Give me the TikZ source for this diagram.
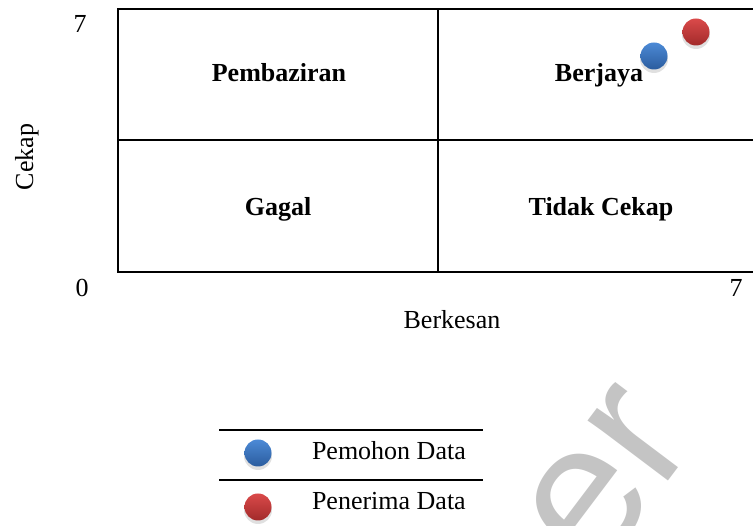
\documentclass[tikz,border=0pt]{standalone}
\usepackage{fontspec}
\setmainfont{Liberation Serif}
\newfontfamily\wmfont{Liberation Sans}
\definecolor{blueTop}{HTML}{4C8AD6}
\definecolor{blueMid}{HTML}{3B76C4}
\definecolor{blueBot}{HTML}{2B5C9E}
\definecolor{redTop}{HTML}{DA4A4A}
\definecolor{redMid}{HTML}{C83A3A}
\definecolor{redBot}{HTML}{A22A2A}
\definecolor{wmgray}{HTML}{C4C4C4}
\begin{document}
\begin{tikzpicture}[x=1pt,y=1pt,
  every node/.style={inner sep=0pt, outer sep=0pt},
  lbl/.style={font=\fontsize{26}{30}\selectfont},
  qlabel/.style={font=\bfseries\fontsize{26}{30}\selectfont, anchor=base},
  grid/.style={line width=2pt, black},
  rule/.style={line width=2pt, black},
  ball/.style={circle, minimum size=27pt},
  blueball/.style={ball, top color=blueTop, middle color=blueMid, bottom color=blueBot},
  redball/.style={ball, top color=redTop, middle color=redMid, bottom color=redBot},
  shade/.style={circle, minimum size=28pt, fill=black, opacity=0.12},
  wmark/.style={wmgray}
]
\useasboundingbox (0,0) rectangle (753,526);
\begin{scope}
\clip (0,0) rectangle (753,526);

% watermark
\node[wmark, anchor=base, rotate=53, font=\wmfont\fontsize{190}{200}\selectfont] (wm) at (616,-25) {per};

% quadrant frame
\draw[grid] (118,254) rectangle (758,517);
\coordinate (midT) at (438,517);
\coordinate (midB) at (438,254);
\coordinate (midL) at (118,386);
\coordinate (midR) at (758,386);
\draw[grid] (midT) -- (midB);
\draw[grid] (midL) -- (midR);

% axis values and titles
\node[lbl, anchor=base] (y7) at (80,493) {7};
\node[lbl, anchor=base] (y0) at (82,229) {0};
\node[lbl, anchor=base] (x7) at (736,229) {7};
\node[lbl, anchor=base, rotate=90] (ylab) at (33,369) {Cekap};
\node[lbl, anchor=base] (xlab) at (452,197) {Berkesan};

% quadrant names
\node[qlabel] (q1) at (279,444) {Pembaziran};
\node[qlabel] (q2) at (599,444) {Berjaya};
\node[qlabel] (q3) at (278,310) {Gagal};
\node[qlabel] (q4) at (601,310) {Tidak Cekap};

% data points
\node[shade] (s1) at (654,467) {};
\node[blueball] (p1) at (654,470) {};
\node[shade] (s2) at (696,491) {};
\node[redball] (p2) at (696,494) {};

% legend
\coordinate (l1a) at (219,96);
\coordinate (l1b) at (483,96);
\coordinate (l2a) at (219,46);
\coordinate (l2b) at (483,46);
\draw[rule] (l1a) -- (l1b);
\draw[rule] (l2a) -- (l2b);
\node[shade] (s3) at (258,70) {};
\node[blueball] (k1) at (258,73) {};
\node[shade] (s4) at (258,16) {};
\node[redball] (k2) at (258,19) {};
\node[lbl, anchor=base west] (t1) at (312,66) {Pemohon Data};
\node[lbl, anchor=base west] (t2) at (312,16) {Penerima Data};
\end{scope}
\end{tikzpicture}
\end{document}
